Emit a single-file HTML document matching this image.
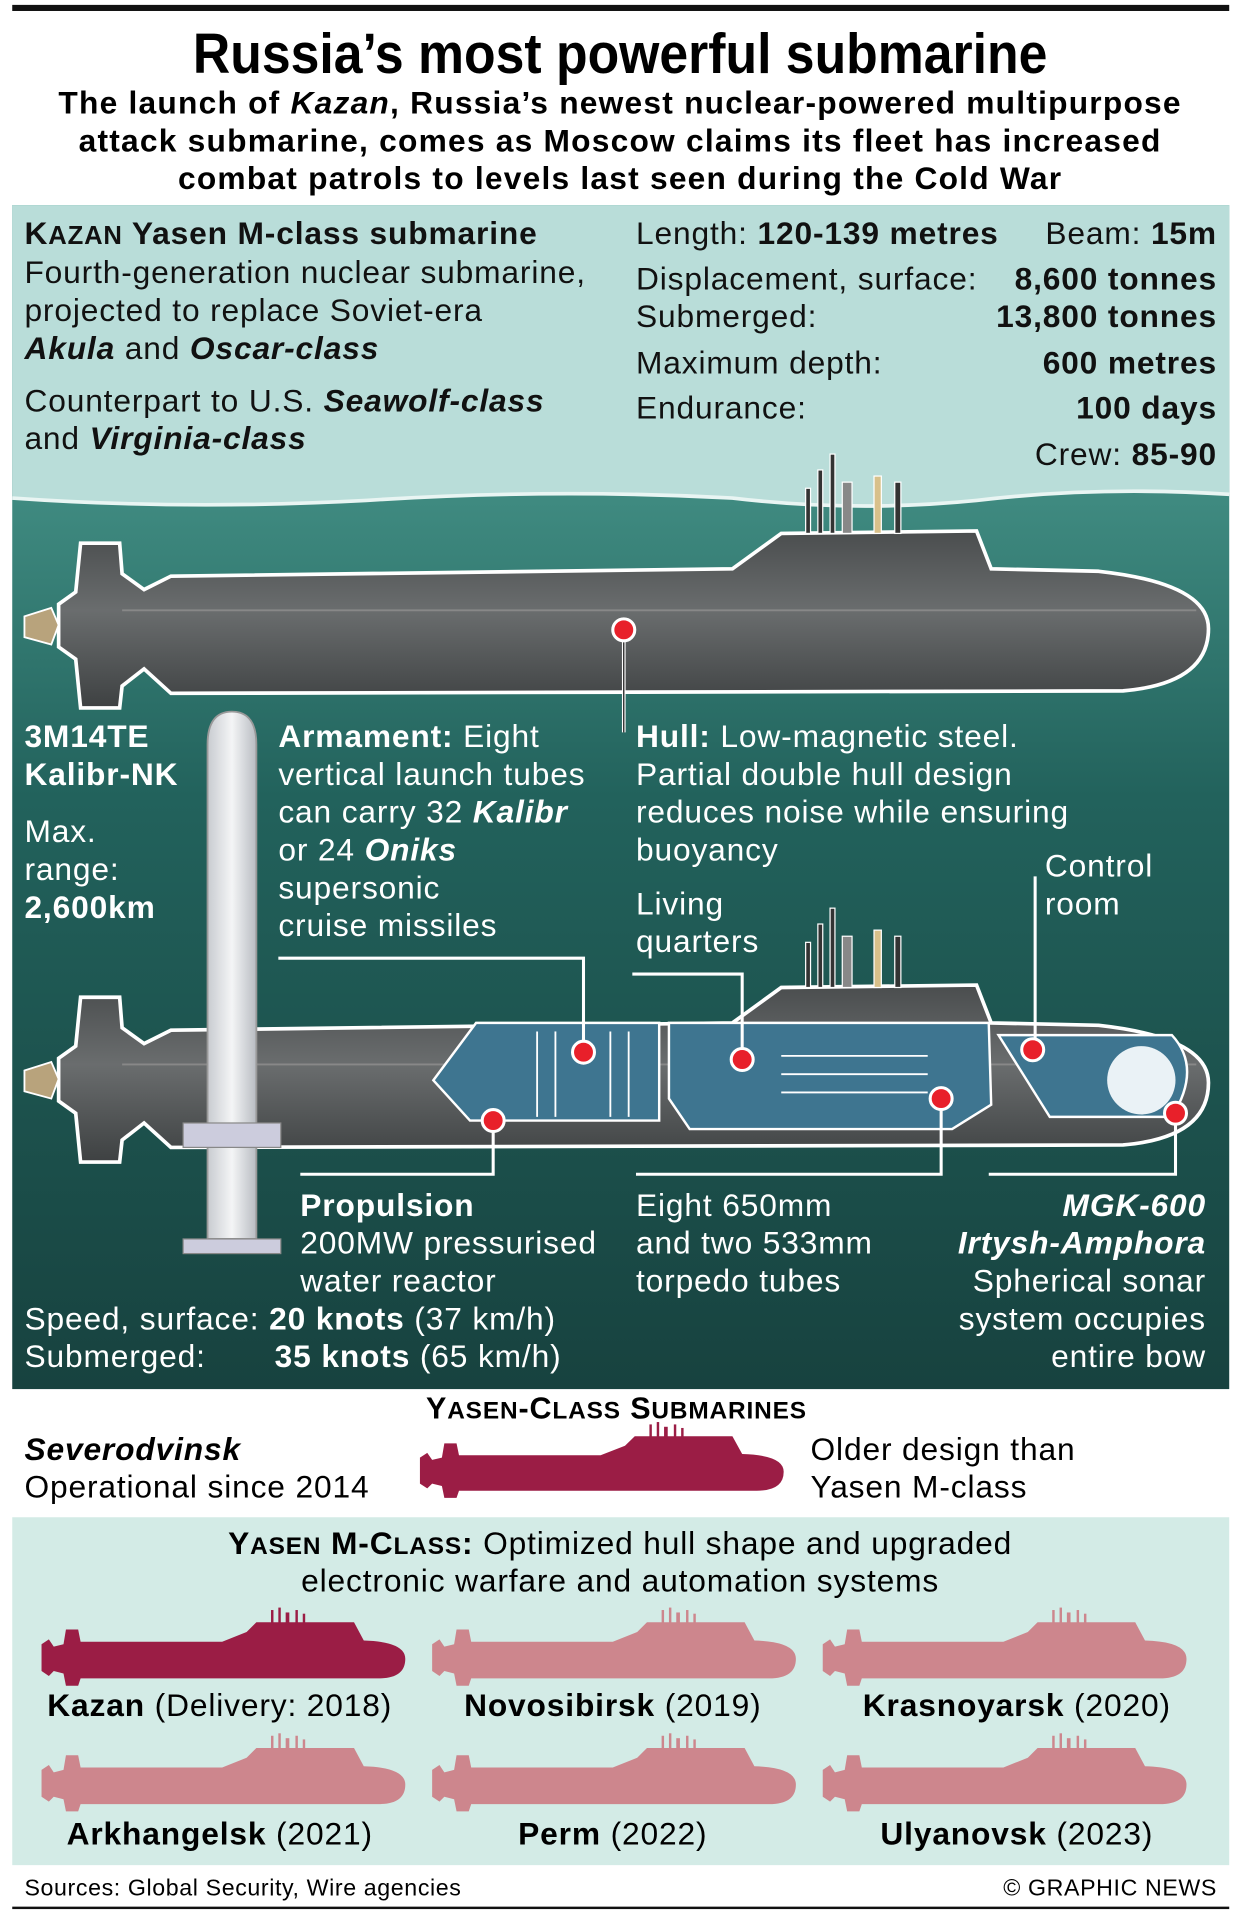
<!DOCTYPE html>
<html><head><meta charset="utf-8"><style>
html,body{margin:0;padding:0;background:#fff}
svg{display:block}
text{font-family:"Liberation Sans",Arial,sans-serif}
</style></head><body>
<svg width="1250" height="1928" viewBox="0 0 1024 1579.5" xmlns="http://www.w3.org/2000/svg">
<defs>
<linearGradient id="water" x1="0" y1="0" x2="0" y2="1">
<stop offset="0" stop-color="#5fa89e"/>
<stop offset="0.25" stop-color="#3f8a80"/>
<stop offset="0.5" stop-color="#22625c"/>
<stop offset="1" stop-color="#17423f"/>
</linearGradient>
<linearGradient id="hull" x1="0" y1="0" x2="0" y2="1">
<stop offset="0" stop-color="#4a4d4e"/>
<stop offset="0.45" stop-color="#6a6d6e"/>
<stop offset="1" stop-color="#3e4142"/>
</linearGradient>
<linearGradient id="mis" x1="0" y1="0" x2="1" y2="0">
<stop offset="0" stop-color="#c8cbd0"/>
<stop offset="0.5" stop-color="#f4f5f6"/>
<stop offset="1" stop-color="#b8bcc2"/>
</linearGradient>
<g id="bigsub">
<path d="M66 445 L98 445 L100 470 L118 483 L140 472 L600 466 L640 437 L800 435 L812 466 L900 468 Q990 478 990 515 Q990 560 920 566 L140 568 L118 548 L100 562 L98 580 L66 580 L62 540 L48 530 L48 495 L62 485 Z" fill="url(#hull)" stroke="#fff" stroke-width="3"/>
<path d="M20 505 L42 498 L48 512 L42 528 L20 522 Z" fill="#b8a37c" stroke="#fff" stroke-width="1.5"/>
<line x1="100" y1="500" x2="980" y2="500" stroke="#888" stroke-width="1.5"/>
<rect x="660" y="400" width="4" height="37" fill="#333" stroke="#fff" stroke-width="1"/>
<rect x="670" y="385" width="4" height="52" fill="#333" stroke="#fff" stroke-width="1"/>
<rect x="680" y="372" width="4" height="65" fill="#333" stroke="#fff" stroke-width="1"/>
<rect x="690" y="395" width="8" height="42" fill="#888" stroke="#fff" stroke-width="1"/>
<rect x="716" y="390" width="6" height="47" fill="#d8c08a" stroke="#fff" stroke-width="1"/>
<rect x="733" y="395" width="5" height="42" fill="#333" stroke="#fff" stroke-width="1"/>
</g>
<g id="sil">
<path d="M2 30 L8 26 L12 32 L20 30 L22 18 L32 18 L34 28 L150 28 L170 20 L178 12 L258 12 L266 27 Q300 28 300 42 Q300 58 278 58 L40 58 L34 58 L32 64 L22 64 L20 54 L12 52 L8 56 L2 52 Z" />
<rect x="190" y="2" width="2" height="12"/><rect x="196" y="0" width="2" height="14"/><rect x="202" y="4" width="3" height="10"/><rect x="210" y="2" width="2" height="12"/><rect x="216" y="5" width="2" height="9"/>
</g>
</defs>
<rect x="10" y="4" width="997" height="5" fill="#111"/>
<text x="508" y="60" text-anchor="middle" font-weight="bold" font-size="46" textLength="700" lengthAdjust="spacingAndGlyphs">Russia’s most powerful submarine</text>
<g font-weight="bold" font-size="26" text-anchor="middle" letter-spacing="1">
<text x="508" y="93">The launch of <tspan font-style="italic">Kazan</tspan>, Russia’s newest nuclear-powered multipurpose</text>
<text x="508" y="124">attack submarine, comes as Moscow claims its fleet has increased</text>
<text x="508" y="155">combat patrols to levels last seen during the Cold War</text>
</g>
<rect x="10" y="168" width="997" height="970" fill="url(#water)"/>
<path d="M10 168 L1007 168 L1007 405 Q900 398 800 410 Q700 420 600 408 Q450 400 300 410 Q150 418 10 408 Z" fill="#b9ddd9"/>
<path d="M10 408 Q150 418 300 410 Q450 400 600 408 Q700 420 800 410 Q900 398 1007 405" fill="none" stroke="#e9f5f3" stroke-width="3"/>
<g font-size="26" fill="#111" letter-spacing="0.7">
<text x="20" y="200" font-weight="bold">K<tspan font-size="21">AZAN</tspan> Yasen M-class submarine</text>
<text x="20" y="232">Fourth-generation nuclear submarine,</text>
<text x="20" y="263">projected to replace Soviet-era</text>
<text x="20" y="294"><tspan font-weight="bold" font-style="italic">Akula</tspan> and <tspan font-weight="bold" font-style="italic">Oscar-class</tspan></text>
<text x="20" y="337">Counterpart to U.S. <tspan font-weight="bold" font-style="italic">Seawolf-class</tspan></text>
<text x="20" y="368">and <tspan font-weight="bold" font-style="italic">Virginia-class</tspan></text>
<text x="521" y="200">Length: <tspan font-weight="bold">120-139 metres</tspan></text>
<text x="997" y="200" text-anchor="end">Beam: <tspan font-weight="bold">15m</tspan></text>
<text x="521" y="237">Displacement, surface:</text><text x="997" y="237" text-anchor="end" font-weight="bold">8,600 tonnes</text>
<text x="521" y="268">Submerged:</text><text x="997" y="268" text-anchor="end" font-weight="bold">13,800 tonnes</text>
<text x="521" y="306">Maximum depth:</text><text x="997" y="306" text-anchor="end" font-weight="bold">600 metres</text>
<text x="521" y="343">Endurance:</text><text x="997" y="343" text-anchor="end" font-weight="bold">100 days</text>
<text x="997" y="381" text-anchor="end">Crew: <tspan font-weight="bold">85-90</tspan></text>
</g>
<use href="#bigsub"/>
<line x1="511" y1="516" x2="511" y2="600" stroke="#fff" stroke-width="3"/>
<line x1="511" y1="516" x2="511" y2="600" stroke="#111" stroke-width="1"/>
<circle cx="511" cy="516" r="9" fill="#e8202a" stroke="#fff" stroke-width="2.5"/>
<use href="#bigsub" transform="translate(0,372)"/>
<g fill="#3e7590" stroke="#fff" stroke-width="2">
<path d="M355 885 L390 838 L540 838 L540 918 L385 918 Z"/>
<path d="M548 838 L810 838 L812 905 L780 925 L565 925 L548 900 Z"/>
<path d="M818 848 L960 848 Q985 875 960 915 L860 915 Z"/>
</g>
<g fill="#eaf2f6"><circle cx="935" cy="885" r="28"/></g>
<g stroke="#fff" stroke-width="1.5" fill="none">
<line x1="440" y1="845" x2="440" y2="915"/><line x1="455" y1="845" x2="455" y2="915"/><line x1="500" y1="845" x2="500" y2="915"/><line x1="515" y1="845" x2="515" y2="915"/>
<line x1="640" y1="865" x2="760" y2="865"/><line x1="640" y1="880" x2="760" y2="880"/><line x1="640" y1="895" x2="760" y2="895"/>
</g>
<!-- missile -->
<path d="M170 610 Q170 583 190 583 Q210 583 210 610 L210 1015 L170 1015 Z" fill="url(#mis)" stroke="#999" stroke-width="1.5"/>
<rect x="150" y="1015" width="80" height="12" fill="#ccd" stroke="#888"/>
<rect x="150" y="920" width="80" height="20" fill="#ccd" stroke="#888"/>
<g font-size="26" fill="#fff" letter-spacing="0.7">
<text x="20" y="612" font-weight="bold">3M14TE</text>
<text x="20" y="643" font-weight="bold">Kalibr-NK</text>
<text x="20" y="690">Max.</text><text x="20" y="721">range:</text>
<text x="20" y="752" font-weight="bold">2,600km</text>
<text x="228" y="612"><tspan font-weight="bold">Armament:</tspan> Eight</text>
<text x="228" y="643">vertical launch tubes</text>
<text x="228" y="674">can carry 32 <tspan font-weight="bold" font-style="italic">Kalibr</tspan></text>
<text x="228" y="705">or 24 <tspan font-weight="bold" font-style="italic">Oniks</tspan></text>
<text x="228" y="736">supersonic</text>
<text x="228" y="767">cruise missiles</text>
<text x="521" y="612"><tspan font-weight="bold">Hull:</tspan> Low-magnetic steel.</text>
<text x="521" y="643">Partial double hull design</text>
<text x="521" y="674">reduces noise while ensuring</text>
<text x="521" y="705">buoyancy</text>
<text x="521" y="749">Living</text><text x="521" y="780">quarters</text>
<text x="856" y="718">Control</text><text x="856" y="749">room</text>
<text x="246" y="996" font-weight="bold">Propulsion</text>
<text x="246" y="1027">200MW pressurised</text>
<text x="246" y="1058">water reactor</text>
<text x="20" y="1089">Speed, surface: <tspan font-weight="bold">20 knots</tspan> (37 km/h)</text>
<text x="20" y="1120">Submerged:</text><text x="225" y="1120"><tspan font-weight="bold">35 knots</tspan> (65 km/h)</text>
<text x="521" y="996">Eight 650mm</text>
<text x="521" y="1027">and two 533mm</text>
<text x="521" y="1058">torpedo tubes</text>
<g text-anchor="end">
<text x="988" y="996" font-weight="bold" font-style="italic">MGK-600</text>
<text x="988" y="1027" font-weight="bold" font-style="italic">Irtysh-Amphora</text>
<text x="988" y="1058">Spherical sonar</text>
<text x="988" y="1089">system occupies</text>
<text x="988" y="1120">entire bow</text>
</g>
</g>
<g stroke="#fff" stroke-width="2.5" fill="none">
<polyline points="228,785 478,785 478,862"/>
<polyline points="518,798 608,798 608,868"/>
<polyline points="848,718 848,860"/>
<polyline points="404,918 404,962 246,962"/>
<polyline points="771,900 771,962 521,962"/>
<polyline points="963,912 963,962 810,962"/>
</g>
<g fill="#e8202a" stroke="#fff" stroke-width="2.5">
<circle cx="478" cy="862" r="9"/><circle cx="608" cy="868" r="9"/><circle cx="846" cy="860" r="9"/>
<circle cx="404" cy="918" r="9"/><circle cx="771" cy="900" r="9"/><circle cx="963" cy="912" r="9"/>
</g>
<text x="505" y="1162" text-anchor="middle" font-weight="bold" font-size="25" letter-spacing="0.7">Y<tspan font-size="20">ASEN</tspan>-C<tspan font-size="20">LASS</tspan> S<tspan font-size="20">UBMARINES</tspan></text>
<g font-size="26" letter-spacing="0.7">
<text x="20" y="1196" font-weight="bold" font-style="italic">Severodvinsk</text>
<text x="20" y="1227">Operational since 2014</text>
<text x="664" y="1196">Older design than</text>
<text x="664" y="1227">Yasen M-class</text>
</g>
<use href="#sil" fill="#9b1d45" transform="translate(342,1165) scale(1,0.97)"/>
<rect x="10" y="1243" width="997" height="285" fill="#d3ebe6"/>
<g font-size="26" text-anchor="middle" letter-spacing="0.7">
<text x="508" y="1273"><tspan font-weight="bold">Y<tspan font-size="20">ASEN</tspan> M-C<tspan font-size="20">LASS</tspan>:</tspan> Optimized hull shape and upgraded</text>
<text x="508" y="1304">electronic warfare and automation systems</text>
<text x="180" y="1406"><tspan font-weight="bold">Kazan</tspan> (Delivery: 2018)</text>
<text x="502" y="1406"><tspan font-weight="bold">Novosibirsk</tspan> (2019)</text>
<text x="833" y="1406"><tspan font-weight="bold">Krasnoyarsk</tspan> (2020)</text>
<text x="180" y="1511"><tspan font-weight="bold">Arkhangelsk</tspan> (2021)</text>
<text x="502" y="1511"><tspan font-weight="bold">Perm</tspan> (2022)</text>
<text x="833" y="1511"><tspan font-weight="bold">Ulyanovsk</tspan> (2023)</text>
</g>
<use href="#sil" fill="#9b1d45" transform="translate(32,1317)"/>
<use href="#sil" fill="#cd868d" transform="translate(352,1317)"/>
<use href="#sil" fill="#cd868d" transform="translate(672,1317)"/>
<use href="#sil" fill="#cd868d" transform="translate(32,1420)"/>
<use href="#sil" fill="#cd868d" transform="translate(352,1420)"/>
<use href="#sil" fill="#cd868d" transform="translate(672,1420)"/>
<text x="20" y="1553" font-size="19" letter-spacing="0.5">Sources: Global Security, Wire agencies</text>
<text x="997" y="1553" font-size="19" text-anchor="end" letter-spacing="0.5">© GRAPHIC NEWS</text>
<rect x="10" y="1562" width="997" height="2" fill="#111"/>
</svg>
</body></html>
